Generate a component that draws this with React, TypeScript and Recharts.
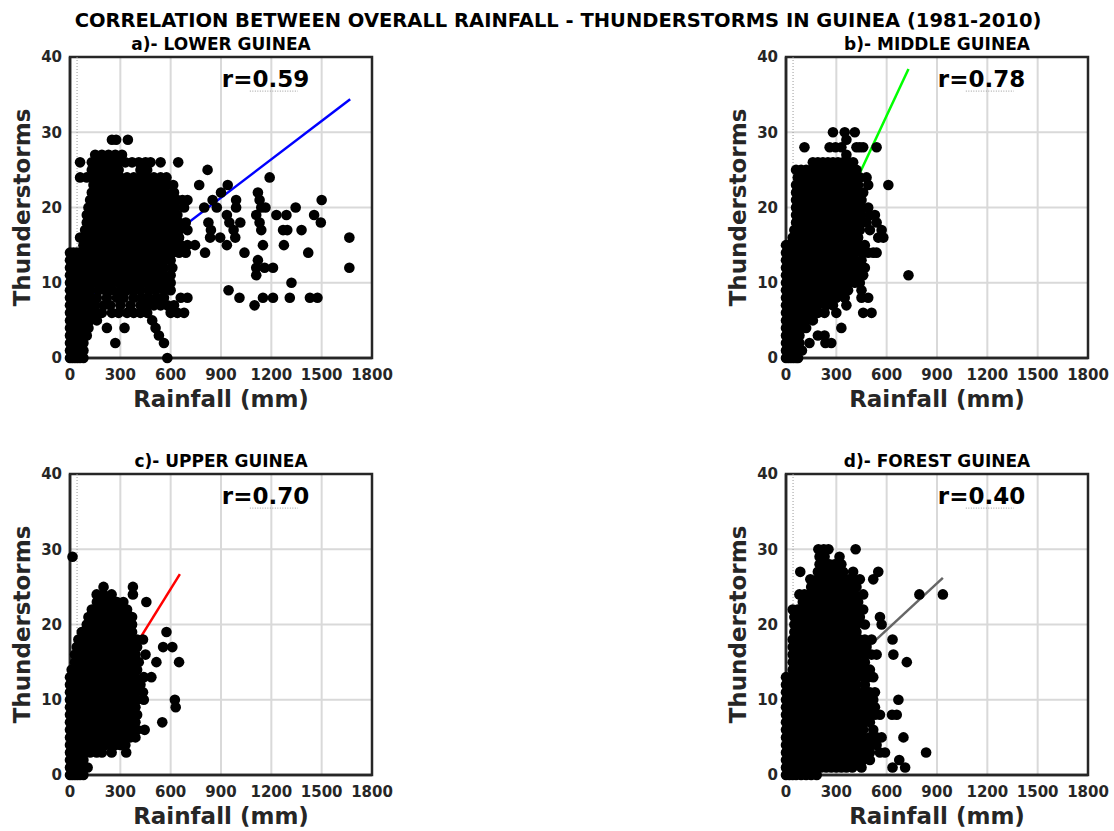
import React from "react";
import { ScatterChart, Scatter, XAxis, YAxis, CartesianGrid, ReferenceArea } from "recharts";

// ---------- axis ticks ----------
const rainTicks = [0, 300, 600, 900, 1200, 1500, 1800];
const stormTicks = [0, 10, 20, 30, 40];

// ---------- data: index = monthly thunderstorm count, values = rainfall (mm) ----------
const lowerGuineaRain: number[][] = [
  [0, 15, 30, 45, 60, 80, 580],
  [0, 20, 40, 60, 80],
  [0, 20, 40, 60, 80, 270, 560],
  [0, 20, 40, 60, 80, 100, 530],
  [0, 20, 40, 60, 80, 110, 220, 325, 510],
  [0, 20, 40, 60, 90, 120, 160, 490],
  [0, 20, 40, 60, 90, 120, 150, 190, 250, 290, 340, 380, 420, 460, 600, 640, 680],
  [0, 20, 40, 60, 90, 120, 150, 200, 240, 300, 360, 420, 460, 500, 540, 580, 620, 1100],
  [0, 20, 40, 60, 90, 120, 160, 220, 280, 320, 380, 430, 470, 520, 560, 660, 700, 1010, 1150, 1210, 1310, 1430, 1475],
  [0, 20, 40, 60, 90, 120, 170, 210, 250, 300, 340, 380, 420, 470, 510, 560, 600, 945],
  [0, 20, 40, 60, 90, 120, 150, 180, 210, 250, 290, 330, 370, 410, 450, 490, 530, 570, 600, 1320],
  [0, 20, 40, 60, 90, 120, 160, 200, 240, 280, 320, 360, 400, 440, 480, 520, 560, 600, 1110],
  [0, 20, 40, 60, 90, 120, 160, 200, 240, 280, 320, 360, 400, 440, 480, 520, 560, 610, 1110, 1160, 1210, 1665],
  [0, 20, 40, 60, 90, 120, 160, 200, 240, 280, 320, 360, 400, 440, 480, 520, 560, 600, 1120],
  [0, 20, 40, 60, 90, 130, 170, 210, 250, 290, 330, 370, 410, 450, 490, 530, 570, 610, 650, 690, 805, 1040, 1420],
  [80, 110, 150, 190, 230, 270, 310, 350, 390, 430, 470, 510, 550, 590, 620, 660, 700, 745, 935, 1150, 1275],
  [60, 100, 140, 180, 220, 260, 300, 340, 380, 420, 460, 500, 540, 580, 620, 650, 835, 895, 985, 1665],
  [90, 130, 170, 210, 250, 290, 330, 370, 410, 450, 490, 530, 570, 610, 650, 700, 840, 975, 1140, 1270, 1295, 1380],
  [100, 140, 180, 220, 260, 300, 340, 380, 420, 460, 500, 540, 580, 620, 650, 690, 825, 950, 1015, 1130, 1495],
  [100, 140, 180, 220, 260, 300, 340, 380, 420, 460, 500, 540, 580, 620, 640, 935, 1110, 1230, 1290, 1455],
  [110, 150, 190, 230, 270, 310, 350, 390, 430, 470, 510, 550, 590, 630, 680, 800, 875, 990, 1140, 1165, 1345],
  [120, 160, 200, 240, 280, 320, 360, 400, 440, 480, 520, 560, 600, 640, 670, 700, 850, 990, 1130, 1500],
  [130, 170, 210, 250, 290, 330, 370, 410, 450, 490, 530, 570, 620, 900, 1120],
  [140, 180, 220, 260, 300, 340, 380, 420, 460, 500, 540, 580, 615, 770, 940],
  [60, 100, 140, 180, 220, 260, 300, 340, 380, 420, 460, 500, 540, 575, 1190],
  [130, 170, 210, 250, 290, 420, 460, 820],
  [60, 130, 170, 210, 250, 290, 330, 370, 410, 450, 480, 540, 645],
  [150, 190, 230, 270, 310],
  [],
  [250, 275, 345],
];

const middleGuineaRain: number[][] = [
  [0, 15, 30, 45, 60, 72],
  [0, 20, 40, 60, 95],
  [0, 20, 40, 60, 80, 140, 235, 270],
  [0, 20, 40, 60, 80, 190, 230],
  [0, 20, 40, 60, 90, 120, 330],
  [0, 20, 40, 60, 90, 120, 160],
  [0, 20, 40, 60, 90, 120, 150, 190, 230, 300, 460, 510],
  [0, 20, 40, 60, 90, 120, 150, 190, 240, 280, 360],
  [0, 20, 40, 60, 90, 120, 150, 180, 220, 260, 300, 350, 450, 490],
  [0, 20, 40, 60, 90, 120, 150, 180, 210, 250, 290, 330, 370, 450],
  [0, 20, 40, 60, 90, 120, 150, 180, 210, 250, 290, 330, 370, 410, 440],
  [0, 20, 40, 60, 90, 120, 150, 180, 210, 250, 290, 330, 370, 410, 460, 730],
  [0, 20, 40, 60, 90, 120, 150, 180, 210, 250, 290, 330, 370, 410, 440, 470],
  [0, 20, 40, 60, 90, 120, 150, 180, 210, 250, 290, 330, 370, 410, 450],
  [0, 20, 40, 60, 90, 120, 150, 180, 210, 250, 290, 330, 370, 410, 460, 490, 520, 540],
  [0, 20, 40, 60, 90, 120, 150, 180, 210, 250, 290, 330, 370, 410, 440, 470],
  [40, 70, 100, 130, 160, 190, 220, 250, 280, 310, 340, 370, 400, 430, 550, 580],
  [50, 80, 110, 140, 170, 200, 230, 260, 290, 320, 350, 380, 410, 440, 500, 570],
  [60, 90, 120, 150, 180, 210, 240, 270, 300, 330, 360, 390, 420, 450, 480, 540],
  [60, 90, 120, 150, 180, 210, 240, 270, 300, 330, 360, 390, 420, 450, 500, 530],
  [60, 90, 120, 150, 180, 210, 240, 270, 300, 330, 360, 390, 420, 450, 490],
  [60, 90, 120, 150, 180, 210, 240, 270, 300, 330, 360, 390, 420, 450],
  [60, 90, 120, 150, 180, 210, 240, 270, 300, 330, 360, 390, 420, 460],
  [60, 90, 120, 150, 180, 210, 240, 270, 300, 330, 360, 390, 430, 490, 610],
  [70, 100, 130, 160, 190, 220, 250, 280, 310, 340, 370, 400, 440, 480],
  [60, 90, 120, 150, 180, 210, 240, 270, 300, 330, 360, 390, 420],
  [160, 190, 220, 250, 280, 310, 340, 370, 400],
  [360],
  [110, 260, 295, 330, 420, 440, 460, 540],
  [360],
  [280, 350, 410],
];

const upperGuineaRain: number[][] = [
  [0, 15, 30, 45, 60, 80],
  [0, 20, 40, 60, 105],
  [0, 20, 40, 60, 80],
  [0, 20, 40, 60, 80, 120, 159, 190, 248, 335],
  [0, 20, 40, 60, 90, 120, 150, 180, 210, 240, 270, 300, 330],
  [0, 20, 40, 60, 90, 120, 150, 180, 210, 240, 270, 300, 330, 360, 390],
  [0, 20, 40, 60, 90, 120, 150, 180, 210, 240, 270, 300, 330, 360, 400, 445],
  [0, 20, 40, 60, 90, 120, 150, 180, 210, 240, 270, 300, 330, 360, 390, 550],
  [0, 20, 40, 60, 90, 120, 150, 180, 210, 240, 270, 300, 330, 360, 400],
  [0, 20, 40, 60, 90, 120, 150, 180, 210, 240, 270, 300, 330, 360, 390, 630],
  [0, 20, 40, 60, 90, 120, 150, 180, 210, 240, 270, 300, 330, 360, 400, 440, 625],
  [0, 20, 40, 60, 90, 120, 150, 180, 210, 240, 270, 300, 330, 360, 390, 435],
  [0, 20, 40, 60, 90, 120, 150, 180, 210, 240, 270, 300, 330, 360, 400, 420],
  [0, 20, 40, 60, 90, 120, 150, 180, 210, 240, 270, 300, 330, 360, 390, 440, 485],
  [10, 30, 50, 70, 90, 120, 150, 180, 210, 240, 270, 300, 330, 360, 400],
  [30, 60, 90, 120, 150, 180, 210, 240, 270, 300, 330, 370, 410, 515, 650],
  [30, 60, 90, 120, 150, 180, 210, 240, 270, 300, 330, 360, 390, 450],
  [40, 70, 100, 130, 160, 190, 220, 250, 280, 310, 340, 370, 400, 555, 610],
  [50, 80, 110, 140, 170, 200, 230, 260, 290, 320, 350, 380, 400, 435],
  [70, 100, 130, 160, 190, 220, 250, 280, 310, 340, 370, 575],
  [100, 130, 160, 190, 220, 250, 280, 310, 340, 370],
  [110, 140, 170, 200, 230, 260, 290, 320, 350, 370],
  [130, 160, 190, 220, 250, 280, 310, 340],
  [160, 190, 220, 250, 280, 318, 455],
  [159, 200, 248, 375],
  [200, 375],
  [],
  [],
  [],
  [15],
];

const forestGuineaRain: number[][] = [
  [0, 20, 40, 60, 90, 120, 150, 183],
  [0, 30, 60, 90, 120, 150, 180, 210, 240, 270, 300, 330, 360, 395, 450, 635, 710],
  [0, 30, 60, 90, 120, 150, 180, 210, 240, 270, 300, 330, 360, 390, 420, 460, 500, 675],
  [0, 30, 60, 90, 120, 150, 180, 210, 240, 270, 300, 330, 360, 390, 420, 460, 500, 560, 590, 835],
  [0, 30, 60, 90, 120, 150, 180, 210, 240, 270, 300, 330, 360, 390, 420, 460, 500, 540],
  [0, 30, 60, 90, 120, 150, 180, 210, 240, 270, 300, 330, 360, 390, 420, 460, 500, 540, 570, 700],
  [0, 30, 60, 90, 120, 150, 180, 210, 240, 270, 300, 330, 360, 390, 420, 460, 520],
  [0, 30, 60, 90, 120, 150, 180, 210, 240, 270, 300, 330, 360, 390, 420, 460, 500],
  [0, 30, 60, 90, 120, 150, 180, 210, 240, 270, 300, 330, 360, 390, 420, 460, 500, 530, 560, 632, 660],
  [0, 30, 60, 90, 120, 150, 180, 210, 240, 270, 300, 330, 360, 390, 420, 460, 500, 530],
  [0, 30, 60, 90, 120, 150, 180, 210, 240, 270, 300, 330, 360, 390, 420, 460, 500, 520, 670],
  [0, 30, 60, 90, 120, 150, 180, 210, 240, 270, 300, 330, 360, 390, 420, 460, 500, 530],
  [0, 30, 60, 90, 120, 150, 180, 210, 240, 270, 300, 330, 360, 390, 420, 470],
  [0, 30, 60, 90, 120, 150, 180, 210, 240, 270, 300, 330, 360, 390, 420, 460, 490, 520],
  [40, 70, 100, 130, 160, 190, 220, 250, 280, 310, 340, 370, 400, 430, 470, 500],
  [40, 70, 100, 130, 160, 190, 220, 250, 280, 310, 340, 370, 400, 430, 470, 720],
  [40, 70, 100, 130, 160, 190, 220, 250, 280, 310, 340, 370, 400, 430, 470, 510, 540, 640],
  [40, 70, 100, 130, 160, 190, 220, 250, 280, 310, 340, 370, 400, 440, 480],
  [40, 70, 100, 130, 160, 190, 220, 250, 280, 310, 340, 370, 400, 440, 470, 510, 635],
  [50, 80, 110, 140, 170, 200, 230, 260, 290, 320, 350, 380, 420],
  [50, 80, 110, 140, 170, 200, 230, 260, 290, 320, 350, 380, 420, 470, 570],
  [50, 80, 110, 140, 170, 200, 230, 260, 290, 320, 350, 380, 410, 440, 560],
  [40, 70, 100, 130, 160, 190, 220, 250, 280, 310, 340, 370, 400, 430, 460],
  [100, 130, 160, 190, 220, 250, 280, 310, 340, 370, 400, 430],
  [80, 110, 140, 170, 200, 230, 260, 290, 320, 350, 380, 410, 460, 795, 935],
  [150, 180, 210, 240, 270, 300, 330, 360, 390, 420],
  [145, 190, 220, 250, 280, 310, 340, 370, 400, 440, 520],
  [85, 190, 220, 250, 280, 310, 340, 400, 550],
  [200, 230, 260, 290, 330],
  [200, 230, 319],
  [193, 225, 253, 415],
];

// ---------- regression lines (end points) ----------
const fitLowerGuinea = [{ rain: 0, storms: 6.0 }, { rain: 1670, storms: 34.4 }];
const fitMiddleGuinea = [{ rain: 0, storms: 3.6 }, { rain: 730, storms: 38.4 }];
const fitUpperGuinea = [{ rain: 0, storms: 3.2 }, { rain: 655, storms: 26.7 }];
const fitForestGuinea = [{ rain: 0, storms: 6.9 }, { rain: 935, storms: 26.2 }];

const regionTitles = ["a)- LOWER GUINEA", "b)- MIDDLE GUINEA", "c)- UPPER GUINEA", "d)- FOREST GUINEA"];
const correlations = ["0.59", "0.78", "0.70", "0.40"];
const fitColors = ["#0000ff", "#00ff00", "#ff0000", "#666666"];

const guideLine = [{ rain: 42, storms: 0 }, { rain: 42, storms: 40 }];
const annotationSpot = [{ rain: 905, storms: 36 }];

const AXIS = "#262626";
const FONT = "'DejaVu Sans', Verdana, sans-serif";

const tickStyle = { fill: AXIS, fontSize: 15, fontWeight: "bold", fontFamily: FONT };
const labelStyle = { fill: AXIS, fontSize: 23, fontWeight: "bold", fontFamily: FONT };
const titleStyle = { fill: "#000", fontSize: 17, fontWeight: "bold", fontFamily: FONT };

const noDot = () => <g />;
const blackDot = (p: any) => <circle cx={p.cx} cy={p.cy} r={5.3} fill="#000" />;
const makeRLabel = (value: string) => (p: any) => (
  <g>
    <text x={p.cx} y={p.cy} fontSize={23} fontWeight="bold" fill="#000" fontFamily={FONT}>
      {`r=${value}`}
    </text>
    <line
      x1={p.cx + 28}
      x2={p.cx + 76}
      y1={p.cy + 4}
      y2={p.cy + 4}
      stroke="#9a9a9a"
      strokeWidth={1}
      strokeDasharray="1 1.5"
    />
  </g>
);

type PanelProps = {
  title: string;
  rows: number[][];
  fit: { rain: number; storms: number }[];
  color: string;
  r: string;
  left: number;
  top: number;
};

function Panel({ title, rows, fit, color, r, left, top }: PanelProps) {
  const points = rows.flatMap((xs, storms) => xs.map((rain) => ({ rain, storms })));
  return (
    <div style={{ position: "absolute", left, top }}>
      <ScatterChart width={400} height={420} margin={{ top: 57, right: 28, bottom: 13.5, left: 30 }}>
        <CartesianGrid stroke="#d9d9d9" strokeWidth={2} />
        <XAxis
          type="number"
          dataKey="rain"
          domain={[0, 1800]}
          ticks={rainTicks}
          interval={0}
          height={48.5}
          tickLine={false}
          tickMargin={5}
          axisLine={{ stroke: AXIS, strokeWidth: 2.5 }}
          tick={tickStyle}
          label={{ value: "Rainfall (mm)", position: "insideBottom", offset: 0, style: labelStyle }}
        />
        <YAxis
          type="number"
          dataKey="storms"
          domain={[0, 40]}
          ticks={stormTicks}
          interval={0}
          width={40}
          tickLine={false}
          axisLine={{ stroke: AXIS, strokeWidth: 2.5 }}
          tick={tickStyle}
          label={{
            value: "Thunderstorms",
            angle: -90,
            position: "insideLeft",
            offset: -8,
            style: { ...labelStyle, textAnchor: "middle" },
          }}
        />
        <ReferenceArea
          x1={0}
          x2={1800}
          y1={0}
          y2={40}
          fill="none"
          fillOpacity={0}
          stroke={AXIS}
          strokeWidth={2.5}
          label={{ value: title, position: "top", offset: 7, style: titleStyle }}
        />
        <Scatter
          data={guideLine}
          line={{ stroke: "#9a9a9a", strokeWidth: 1, strokeDasharray: "1 2" }}
          shape={noDot}
          isAnimationActive={false}
        />
        <Scatter data={fit} line={{ stroke: color, strokeWidth: 2.5 }} shape={noDot} isAnimationActive={false} />
        <Scatter data={points} shape={blackDot} isAnimationActive={false} />
        <Scatter data={annotationSpot} shape={makeRLabel(r)} isAnimationActive={false} />
      </ScatterChart>
    </div>
  );
}

export default function App() {
  const rows = [lowerGuineaRain, middleGuineaRain, upperGuineaRain, forestGuineaRain];
  const fits = [fitLowerGuinea, fitMiddleGuinea, fitUpperGuinea, fitForestGuinea];
  const positions = [
    { left: 0, top: 0 },
    { left: 716, top: 0 },
    { left: 0, top: 417 },
    { left: 716, top: 417 },
  ];
  return (
    <div
      style={{
        position: "absolute",
        left: 0,
        top: 0,
        width: 1114,
        height: 831,
        background: "#fff",
        fontFamily: FONT,
        overflow: "hidden",
      }}
    >
      <svg width={1114} height={40} style={{ position: "absolute", left: 0, top: 0 }}>
        <text x={558} y={26.5} textAnchor="middle" fontSize={19.5} fontWeight="bold" fill="#000" fontFamily={FONT}>
          CORRELATION BETWEEN OVERALL RAINFALL - THUNDERSTORMS IN GUINEA (1981-2010)
        </text>
      </svg>
      {regionTitles.map((title, i) => (
        <Panel
          key={title}
          title={title}
          rows={rows[i]}
          fit={fits[i]}
          color={fitColors[i]}
          r={correlations[i]}
          left={positions[i].left}
          top={positions[i].top}
        />
      ))}
    </div>
  );
}
